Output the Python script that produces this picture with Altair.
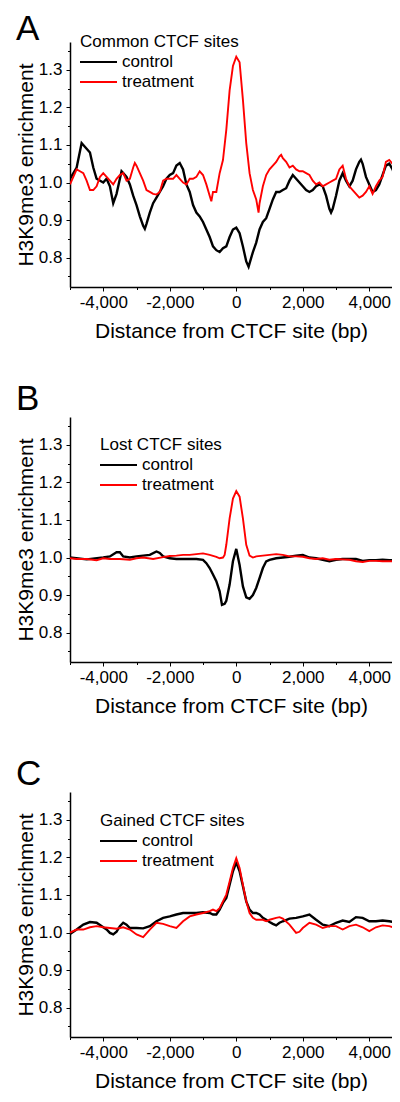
import altair as alt
import pandas as pd

FONT = "Liberation Sans"

# ---------------- Panel A: Common CTCF sites ----------------
a_ctrl_x = [-5000, -4800, -4650, -4600, -4400, -4300, -4200, -4000, -3900, -3800, -3700, -3600, -3450, -3400,
            -3300, -3200, -3100, -3000, -2900, -2800, -2750, -2700, -2600, -2500, -2400, -2300, -2200, -2100,
            -2000, -1900, -1800, -1700, -1600, -1500, -1400, -1300, -1200, -1100, -1000, -900, -800, -700,
            -600, -500, -400, -300, -200, -100, 0, 100, 200, 300, 370, 400, 500, 600, 700, 800, 900, 1000,
            1100, 1200, 1300, 1400, 1500, 1600, 1700, 1800, 1900, 2000, 2100, 2200, 2300, 2400, 2500, 2600,
            2700, 2800, 2850, 2900, 3000, 3100, 3200, 3300, 3400, 3500, 3600, 3700, 3750, 3800, 3900, 4000,
            4100, 4200, 4300, 4400, 4500, 4600, 4700, 4800, 4900, 5000]
a_ctrl_y = [1.01, 1.04, 1.105, 1.10, 1.08, 1.04, 1.01, 1.0, 1.01, 0.99, 0.945, 0.97, 1.03, 1.025,
            1.015, 0.995, 0.965, 0.94, 0.91, 0.885, 0.877, 0.89, 0.92, 0.945, 0.96, 0.975, 0.99, 1.01,
            1.02, 1.025, 1.045, 1.052, 1.035, 0.995, 0.975, 0.94, 0.92, 0.91, 0.895, 0.875, 0.855, 0.83,
            0.82, 0.815, 0.825, 0.83, 0.855, 0.875, 0.88, 0.865, 0.83, 0.79, 0.776, 0.785, 0.815, 0.84, 0.875,
            0.895, 0.905, 0.93, 0.955, 0.975, 0.975, 0.98, 0.985, 1.005, 1.02, 1.01, 1.0, 0.99, 0.98, 0.975,
            0.98, 0.99, 0.995, 0.99, 0.965, 0.93, 0.92, 0.93, 0.965, 1.005, 1.025, 1.005, 0.99, 1.005, 1.035,
            1.055, 1.061, 1.05, 1.015, 0.995, 0.975, 0.98, 0.995, 1.02, 1.045, 1.05, 1.035, 1.01, 0.985, 0.955]

a_trt_x = [-5000, -4900, -4800, -4700, -4600, -4500, -4400, -4300, -4200, -4100, -4000, -3900, -3800, -3700,
           -3600, -3500, -3400, -3300, -3200, -3100, -3050, -3000, -2900, -2800, -2700, -2600, -2500, -2400,
           -2300, -2200, -2100, -2000, -1900, -1800, -1700, -1600, -1500, -1400, -1300, -1200, -1100, -1000,
           -900, -800, -750, -700, -600, -500, -400, -300, -200, -100, 0, 100, 200, 300, 400, 500, 600, 670,
           700, 800, 900, 1000, 1100, 1200, 1300, 1350, 1400, 1500, 1600, 1700, 1800, 1900, 2000, 2100, 2200,
           2300, 2400, 2500, 2600, 2700, 2800, 2900, 3000, 3100, 3200, 3300, 3400, 3500, 3600, 3700, 3800,
           3900, 4000, 4100, 4200, 4300, 4400, 4500, 4600, 4700, 4800, 4900, 5000]
a_trt_y = [0.995, 1.015, 1.035, 1.03, 1.025, 1.005, 0.98, 0.98, 0.99, 1.015, 1.025, 1.015, 1.005, 0.995,
           1.01, 1.02, 1.025, 1.005, 1.01, 1.04, 1.052, 1.045, 1.025, 1.005, 0.98, 0.975, 0.97, 0.968,
           0.975, 1.005, 1.01, 1.01, 1.01, 1.02, 1.01, 1.0, 0.995, 1.01, 1.01, 1.015, 1.03, 1.02,
           0.995, 0.965, 0.95, 0.975, 0.975, 1.025, 1.06, 1.14, 1.245, 1.31, 1.335, 1.32, 1.22, 1.105, 1.025,
           0.98, 0.955, 0.92, 0.945, 0.99, 1.02, 1.035, 1.045, 1.055, 1.07, 1.074, 1.065, 1.055, 1.04, 1.045,
           1.035, 1.03, 1.03, 1.025, 1.02, 1.005, 0.995, 1.0, 0.99, 0.995, 1.0, 1.005, 1.01, 1.035, 1.045,
           1.01, 0.99, 0.98, 0.97, 0.96, 0.965, 0.975, 0.99, 0.97, 0.99, 1.005, 1.015, 1.055, 1.06, 1.05,
           1.045, 1.025, 1.02]

# ---------------- Panel B: Lost CTCF sites ----------------
b_ctrl_x = [-5000, -4500, -4000, -3800, -3600, -3500, -3400, -3200, -3000, -2800, -2600, -2400, -2300, -2200,
            -2000, -1800, -1600, -1400, -1200, -1000, -900, -800, -700, -600, -500, -430, -350, -300, -200,
            -100, 0, 100, 200, 300, 400, 500, 600, 700, 800, 900, 1000, 1200, 1400, 1600, 1800, 2000, 2200,
            2400, 2600, 2800, 3000, 3200, 3400, 3600, 3800, 4000, 4200, 4400, 4600, 4800, 5000]
b_ctrl_y = [1.0, 0.995, 1.0, 1.003, 1.014, 1.014, 1.003, 1.0, 1.003, 1.005, 1.007, 1.016, 1.012, 1.003,
            0.998, 0.996, 0.996, 0.996, 0.996, 0.994, 0.985, 0.972, 0.955, 0.937, 0.91, 0.874, 0.877, 0.885,
            0.928, 0.99, 1.023, 0.98, 0.923, 0.894, 0.89, 0.9, 0.919, 0.945, 0.972, 0.99, 0.994, 0.998, 1.0,
            1.002, 1.005, 1.007, 1.0, 0.998, 0.994, 0.99, 0.994, 0.996, 0.996, 0.996, 0.991, 0.993, 0.993,
            0.994, 0.993, 0.992, 0.993]

b_trt_x = [-5000, -4800, -4500, -4200, -4000, -3800, -3500, -3200, -3000, -2800, -2500, -2200, -2000, -1800,
           -1600, -1400, -1200, -1000, -800, -600, -500, -400, -350, -300, -200, -100, 0, 100, 200, 300,
           400, 500, 600, 800, 1000, 1200, 1400, 1600, 1800, 2000, 2200, 2400, 2600, 2800, 3000, 3200, 3400,
           3600, 3800, 4000, 4200, 4400, 4600, 4800, 5000]
b_trt_y = [0.998, 0.996, 0.996, 0.993, 0.998, 0.996, 0.996, 0.994, 0.998, 1.0, 0.996, 1.001, 1.004, 1.005,
           1.007, 1.007, 1.009, 1.011, 1.007, 1.002, 0.998, 1.0, 1.007, 1.034, 1.104, 1.157, 1.177, 1.162,
           1.104, 1.034, 1.005, 1.0, 1.003, 1.005, 1.007, 1.009, 1.007, 1.003, 1.003, 1.002, 0.998, 0.996,
           0.998, 0.994, 0.996, 0.995, 0.994, 0.99, 0.988, 0.991, 0.991, 0.99, 0.99, 0.99, 0.991]

# ---------------- Panel C: Gained CTCF sites ----------------
c_ctrl_x = [-5000, -4800, -4600, -4400, -4200, -4000, -3900, -3800, -3700, -3600, -3500, -3400, -3300, -3200,
            -3000, -2800, -2600, -2400, -2200, -2000, -1800, -1600, -1400, -1200, -1000, -800, -700, -600,
            -500, -400, -300, -200, -100, 0, 100, 200, 300, 400, 500, 600, 700, 800, 900, 1000, 1100, 1200,
            1300, 1400, 1600, 1800, 2000, 2200, 2400, 2600, 2800, 3000, 3200, 3400, 3600, 3800, 4000, 4200,
            4400, 4600, 4800, 5000]
c_ctrl_y = [0.996, 1.008, 1.021, 1.028, 1.026, 1.014, 1.008, 0.999, 0.995, 1.002, 1.017, 1.026, 1.021, 1.012,
            1.012, 1.011, 1.017, 1.03, 1.039, 1.043, 1.048, 1.052, 1.052, 1.052, 1.054, 1.052, 1.048, 1.048,
            1.061, 1.079, 1.092, 1.127, 1.163, 1.187, 1.163, 1.123, 1.083, 1.061, 1.052, 1.052, 1.048, 1.039,
            1.034, 1.028, 1.023, 1.019, 1.026, 1.03, 1.037, 1.039, 1.043, 1.048, 1.034, 1.021, 1.017, 1.026,
            1.032, 1.028, 1.041, 1.039, 1.03, 1.03, 1.032, 1.03, 1.027, 1.034]

c_trt_x = [-5000, -4800, -4600, -4400, -4200, -4000, -3800, -3600, -3400, -3200, -3000, -2800, -2600, -2400,
           -2200, -2000, -1800, -1600, -1400, -1200, -1000, -800, -700, -600, -500, -400, -300, -200, -100,
           0, 100, 200, 300, 400, 500, 600, 700, 800, 900, 1000, 1200, 1300, 1400, 1600, 1800, 1900, 2000,
           2200, 2400, 2600, 2800, 3000, 3200, 3400, 3600, 3800, 4000, 4200, 4400, 4600, 4800, 5000]
c_trt_y = [1.0, 1.008, 1.008, 1.014, 1.017, 1.014, 1.012, 1.01, 1.014, 1.008, 0.995, 0.988, 1.008, 1.026,
           1.023, 1.017, 1.012, 1.03, 1.043, 1.048, 1.052, 1.057, 1.061, 1.057, 1.065, 1.083, 1.101, 1.136,
           1.172, 1.198, 1.172, 1.127, 1.083, 1.052, 1.039, 1.034, 1.034, 1.034, 1.03, 1.034, 1.039, 1.041,
           1.037, 1.021, 0.999, 1.002, 1.012, 1.026, 1.021, 1.012, 1.017, 1.017, 1.008, 1.017, 1.021, 1.014,
           1.004, 1.014, 1.019, 1.017, 1.012, 0.996]

# ---------------- Axis ticks ----------------
x_tick_values = [-5000, -4000, -3000, -2000, -1000, 0, 1000, 2000, 3000, 4000]
y_tick_values = [0.75, 0.8, 0.85, 0.9, 0.95, 1.0, 1.05, 1.1, 1.15, 1.2, 1.25, 1.3, 1.35]
X_TITLE = "Distance from CTCF site (bp)"
Y_TITLE = "H3K9me3 enrichment"

# the visible x-range is cut at the right page edge, as in the reference
X_DOMAIN = [-5000, 4683]
W, H = 322, 245


def panel(letter, legend_title, cx, cy, tx, ty, leg_x, leg_y, letter_y):
    df_c = pd.DataFrame({"pos": cx, "val": cy})
    df_t = pd.DataFrame({"pos": tx, "val": ty})
    x_axis = alt.Axis(
        values=x_tick_values,
        labelExpr="datum.value % 2000 === 0 && abs(datum.value) < 5000 ? "
                  "((datum.value < 0 ? '-' : '') + format(abs(datum.value), ',')) : ''",
        tickSize={"condition": {"test": "datum.value % 2000 === 0", "value": 4}, "value": 2.5},
        labelPadding=3, titlePadding=10, labelFlush=False, labelOverlap=False,
    )
    y_axis = alt.Axis(
        values=y_tick_values,
        labelExpr="abs(datum.value * 10 - round(datum.value * 10)) < 0.01 ? format(datum.value, '.1f') : ''",
        tickSize={"condition": {"test": "abs(datum.value * 10 - round(datum.value * 10)) < 0.01", "value": 4},
                  "value": 2.5},
        labelPadding=4, titlePadding=2, labelFlush=False, labelOverlap=False,
    )
    xenc = alt.X("pos:Q", scale=alt.Scale(domain=X_DOMAIN, nice=False, zero=False),
                 axis=x_axis, title=X_TITLE)
    yenc = alt.Y("val:Q", scale=alt.Scale(domain=[0.722, 1.374], nice=False, zero=False),
                 axis=y_axis, title=Y_TITLE)
    ctrl = alt.Chart(df_c).mark_line(color="black", strokeWidth=2.4, clip=True).encode(x=xenc, y=yenc)
    trt = alt.Chart(df_t).mark_line(color="#ff0000", strokeWidth=1.9, clip=True).encode(x=xenc, y=yenc)

    letter_df = pd.DataFrame({"t": [letter]})
    let = alt.Chart(letter_df).mark_text(align="left", baseline="alphabetic", fontSize=35, font=FONT,
                                         color="black").encode(
        text="t:N", x=alt.value(-54), y=alt.value(letter_y))

    title_df = pd.DataFrame({"t": [legend_title]})
    ltitle = alt.Chart(title_df).mark_text(align="left", baseline="middle", fontSize=17, font=FONT,
                                           color="black").encode(
        text="t:N", x=alt.value(leg_x), y=alt.value(leg_y))
    items = []
    for i, (name, col) in enumerate([("control", "black"), ("treatment", "#ff0000")]):
        d = pd.DataFrame({"t": [name]})
        yy = leg_y + 20 * (i + 1)
        items.append(alt.Chart(d).mark_rule(color=col, strokeWidth=2).encode(
            x=alt.value(leg_x), x2=alt.value(leg_x + 37), y=alt.value(yy)))
        items.append(alt.Chart(d).mark_text(align="left", baseline="middle", fontSize=17, font=FONT,
                                            color="black").encode(
            text="t:N", x=alt.value(leg_x + 42), y=alt.value(yy)))
    return alt.layer(ctrl, trt, let, ltitle, *items).properties(width=W, height=H)


pa = panel("A", "Common CTCF sites", a_ctrl_x, a_ctrl_y, a_trt_x, a_trt_y, 10, 0, -2)
pb = panel("B", "Lost CTCF sites", b_ctrl_x, b_ctrl_y, b_trt_x, b_trt_y, 30, 28, -7)
pc = panel("C", "Gained CTCF sites", c_ctrl_x, c_ctrl_y, c_trt_x, c_trt_y, 30, 29, -7)

chart = alt.vconcat(pa, pb, pc, spacing=130, bounds="flush").properties(
    padding={"left": 7, "top": 4, "right": 0, "bottom": 0}
).configure_view(stroke=None).configure_axis(
    labelFont=FONT, titleFont=FONT, labelFontSize=17, titleFontSize=21, titleFontWeight="normal",
    domainColor="black", domainWidth=1.5, tickColor="black", tickWidth=1, labelColor="black",
    titleColor="black", grid=False,
)

chart.save("out.html", embed_options={"renderer": "svg", "actions": False})
